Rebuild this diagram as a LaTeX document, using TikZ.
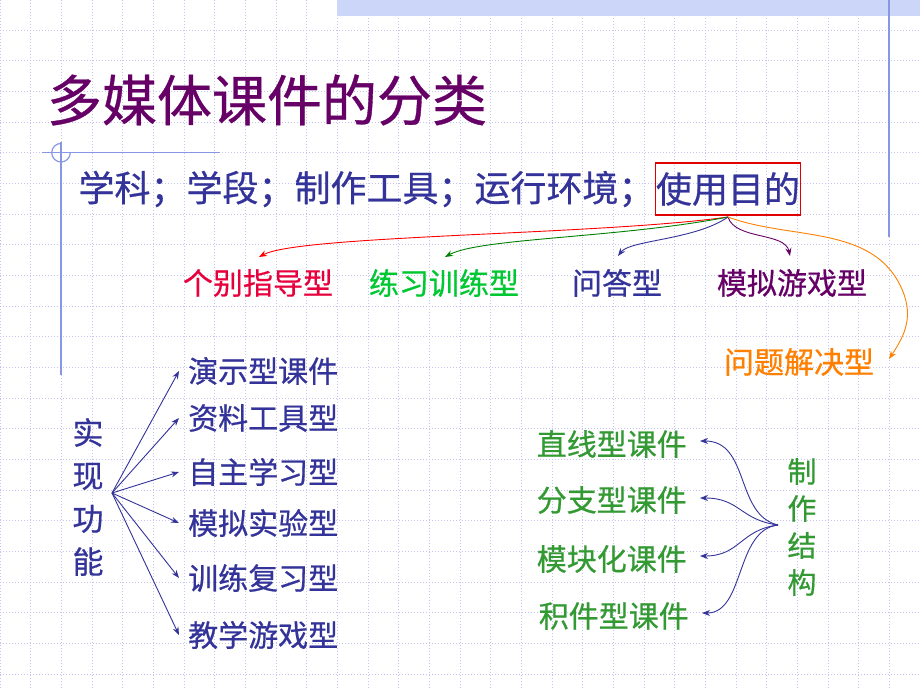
\documentclass[tikz,border=0pt]{standalone}
\usepackage{fontspec}
\newfontfamily\cjk[FakeBold=0.6]{Noto Sans CJK SC}
\usetikzlibrary{arrows.meta}
\definecolor{ttl}{HTML}{660066}
\definecolor{navy}{HTML}{333399}
\definecolor{crim}{HTML}{E6003C}
\definecolor{brg}{HTML}{00C832}
\definecolor{dkg}{HTML}{008000}
\definecolor{org}{HTML}{FF8000}
\definecolor{mgreen}{HTML}{339933}
\definecolor{gridc}{HTML}{C4C4F0}
\definecolor{rulec}{HTML}{8896E6}
\definecolor{bandc}{HTML}{CCD6F8}
\definecolor{boxred}{HTML}{E00000}
\tikzset{
  gridline/.style={draw=gridc, line width=0.8pt, dash pattern=on 1pt off 2pt},
  rulel/.style={draw=rulec, line width=1.2pt},
  lbl/.style={font=\cjk\fontsize{30}{30}\selectfont, inner sep=0pt},
  litem/.style={lbl, text=navy, anchor=west, inner xsep=9pt},
  ritem/.style={lbl, text=mgreen, anchor=east, inner xsep=13pt},
  arr/.style={-{Stealth[length=8pt,width=6pt]}, line width=0.9pt},
}
\begin{document}
\begin{tikzpicture}[x=1pt, y=-1pt]
\useasboundingbox (0,0) rectangle (920,690);
\fill[white] (0,0) rectangle (920,690);
% grid
\foreach \i in {0,...,30} \draw[gridline] ({\i*30.6667},0) -- ({\i*30.6667},690);
\foreach \j in {0,...,21} \draw[gridline] (0,{30+\j*30.6667}) -- (920,{30+\j*30.6667});
% top band
\fill[bandc] (337,0) rectangle (920,16);
% rules
\draw[rulel] (889,0) -- (889,237);
\draw[rulel] (42,152.7) -- (220,152.7);
\draw[rulel] (61,142) -- (61,375);
\draw[rulel] (61,143.4) arc[start angle=270, end angle=0, radius=9.3];
% title
\node[font=\cjk\fontsize{55}{55}\selectfont, text=ttl, inner sep=0pt] (title) at (267,100) {多媒体课件的分类};
% subtitle
\node[draw=boxred, line width=1.6pt, minimum width=145pt, minimum height=52pt, inner sep=0pt,
      font=\cjk\fontsize{36}{36}\selectfont, text=navy] (goal) at (728,189) {使用目的};
\node[font=\cjk\fontsize{36}{36}\selectfont, text=navy, inner sep=0pt, anchor=east] (sub) at (goal.west) {学科；学段；制作工具；运行环境；};
% purpose types
\node[lbl, text=crim] (t1) at (258,283) {个别指导型};
\node[lbl, text=brg] (t2) at (444,283) {练习训练型};
\node[lbl, text=navy] (t3) at (617,283) {问答型};
\node[lbl, text=ttl] (t4) at (792,283) {模拟游戏型};
\node[lbl, text=org] (t5) at (799,362) {问题解决型};
\coordinate (g0) at (728,217);
\draw[arr, red] (g0) .. controls (600,235) and (300,235) .. (259,257);
\draw[arr, dkg] (g0) .. controls (620,238) and (480,238) .. (445,257);
\draw[arr, navy] (g0) .. controls (695,240) and (630,240) .. (618,256);
\draw[arr, ttl] (g0) .. controls (735,240) and (785,232) .. (790,256);
\draw[arr, org] (g0) .. controls (790,240) and (870,225) .. (900,285) .. controls (915,315) and (905,335) .. (889,359);
% function
\node[font=\cjk\fontsize{31}{43}\selectfont, text=navy, inner sep=0pt, align=center] (func) at (88,497) {实\\现\\功\\能};
\coordinate (f0) at (112,493);
\node[litem] (a1) at (179,371) {演示型课件};
\node[litem] (a2) at (179,418) {资料工具型};
\node[litem] (a3) at (179,472) {自主学习型};
\node[litem] (a4) at (179,523) {模拟实验型};
\node[litem] (a5) at (179,578) {训练复习型};
\node[litem] (a6) at (179,635) {教学游戏型};
\foreach \n in {a1,a2,a3,a4,a5,a6} \draw[arr, navy] (f0) -- (\n.west);
% structure
\node[font=\cjk\fontsize{29}{37}\selectfont, text=mgreen, inner sep=0pt, align=center] (struct) at (802,527) {制\\作\\结\\构};
\coordinate (s0) at (778,525);
\node[ritem] (b1) at (700,444) {直线型课件};
\node[ritem] (b2) at (700,500) {分支型课件};
\node[ritem] (b3) at (700,559) {模块化课件};
\node[ritem] (b4) at (702,616) {积件型课件};
\draw[arr, navy] (s0) .. controls (735,515) and (750,441) .. ([yshift=3pt]b1.east);
\draw[arr, navy] (s0) .. controls (740,520) and (740,498) .. ([yshift=2pt]b2.east);
\draw[arr, navy] (s0) .. controls (740,530) and (740,556) .. ([yshift=3pt]b3.east);
\draw[arr, navy] (s0) .. controls (735,530) and (745,613) .. ([yshift=3pt]b4.east);
\end{tikzpicture}
\end{document}
